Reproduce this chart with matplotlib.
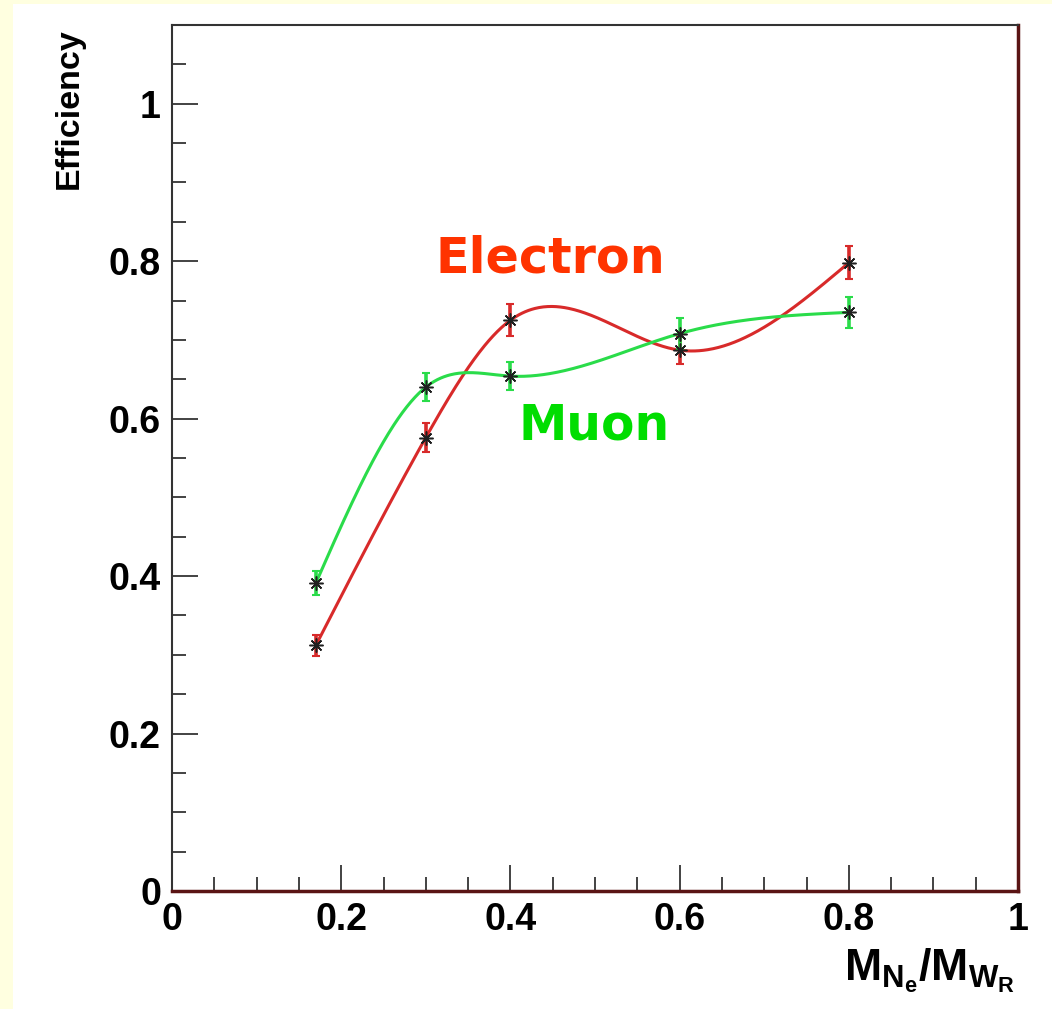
import numpy as np
import matplotlib
matplotlib.use('Agg')
import matplotlib.pyplot as plt
from matplotlib.patches import Rectangle
from matplotlib.ticker import MultipleLocator

plt.rcParams['font.family'] = ['Liberation Sans', 'DejaVu Sans']
plt.rcParams['font.weight'] = 'bold'
plt.rcParams['mathtext.fontset'] = 'custom'
plt.rcParams['mathtext.rm'] = 'Liberation Sans:bold'
plt.rcParams['mathtext.bf'] = 'Liberation Sans:bold'
plt.rcParams['mathtext.it'] = 'Liberation Sans:bold'

# mass ratio M_N / M_W
mass_ratio = [0.17, 0.3, 0.4, 0.6, 0.8]
eff_electron = [0.312, 0.576, 0.725, 0.687, 0.798]
err_electron = [0.013, 0.018, 0.020, 0.017, 0.021]
eff_muon = [0.391, 0.640, 0.654, 0.708, 0.735]
err_muon = [0.015, 0.018, 0.018, 0.020, 0.020]

XMAX = 1.0
YMAX = 1.1


def natural_spline(x, y, xx):
    # natural cubic spline through (x, y), evaluated at xx
    x = np.asarray(x, float)
    y = np.asarray(y, float)
    n = len(x)
    h = np.diff(x)
    A = np.zeros((n, n))
    b = np.zeros(n)
    A[0, 0] = A[-1, -1] = 1
    for i in range(1, n - 1):
        A[i, i - 1] = h[i - 1]
        A[i, i] = 2 * (h[i - 1] + h[i])
        A[i, i + 1] = h[i]
        b[i] = 6 * ((y[i + 1] - y[i]) / h[i] - (y[i] - y[i - 1]) / h[i - 1])
    M = np.linalg.solve(A, b)
    i = np.clip(np.searchsorted(x, xx, side='right') - 1, 0, n - 2)
    a = x[i + 1] - xx
    c = xx - x[i]
    return (M[i] * a**3 / (6 * h[i]) + M[i + 1] * c**3 / (6 * h[i])
            + (y[i] / h[i] - M[i] * h[i] / 6) * a
            + (y[i + 1] / h[i] - M[i + 1] * h[i] / 6) * c)


fig = plt.figure(figsize=(10.52, 10.09), dpi=100, facecolor='#FFFFE0')
fig.patches.append(Rectangle((13 / 1052, 0), 1, 1005 / 1009, transform=fig.transFigure,
                             facecolor='white', edgecolor='none', zorder=-10))

ax = fig.add_axes([172 / 1052, 118 / 1009, 846 / 1052, 866 / 1009])
ax.set_zorder(1)
ax.set_xlim(0, XMAX)
ax.set_ylim(0, YMAX)

red = '#D82A2A'
green = '#2ADC4A'

xs = np.linspace(mass_ratio[0], mass_ratio[-1], 500)
for yv, err, col in [(eff_electron, err_electron, red), (eff_muon, err_muon, green)]:
    ax.plot(xs, natural_spline(mass_ratio, yv, xs), color=col, lw=2.2, zorder=2)
    ax.errorbar(mass_ratio, yv, yerr=err, fmt='none', ecolor=col, elinewidth=2.6,
                capsize=3, capthick=1.5, zorder=3)
    ax.plot(mass_ratio, yv, ls='none', marker=(8, 2, 0), ms=10, mew=1.1,
            color='#202020', zorder=4)

ax.text(0.311, 0.803, 'Electron', color='#FF3300', fontsize=35.5, fontweight='bold',
        family='DejaVu Sans', va='center', ha='left')
ax.text(0.41, 0.591, 'Muon', color='#00DD00', fontsize=35, fontweight='bold',
        family='DejaVu Sans', va='center', ha='left')

ax.xaxis.set_minor_locator(MultipleLocator(0.05))
ax.yaxis.set_minor_locator(MultipleLocator(0.05))
ax.set_xticks([0, 0.2, 0.4, 0.6, 0.8, 1.0])
ax.set_xticklabels(['0', '0.2', '0.4', '0.6', '0.8', '1'])
ax.set_yticks([0, 0.2, 0.4, 0.6, 0.8, 1.0])
ax.set_yticklabels(['0', '0.2', '0.4', '0.6', '0.8', '1'])
ax.tick_params(which='both', direction='in', top=False, right=False, width=1.2,
               color='#222222', labelsize=27)
ax.tick_params(which='major', length=19)
ax.tick_params(which='minor', length=10)
ax.tick_params(axis='x', pad=8)
ax.tick_params(axis='y', pad=8)
for lab in ax.get_xticklabels() + ax.get_yticklabels():
    lab.set_fontweight('bold')

for side in ['left', 'top']:
    ax.spines[side].set_color('#333333')
    ax.spines[side].set_linewidth(1.5)
for side in ['right', 'bottom']:
    ax.spines[side].set_color('#5A1414')
    ax.spines[side].set_linewidth(2.5)

ax.set_ylabel('Efficiency', fontsize=24.5, fontweight='bold')
ax.yaxis.set_label_coords(-0.103, 0.904)
ax.set_xlabel(r'$\mathbf{M_{N_e}/M_{W_R}}$', fontsize=32)
ax.xaxis.set_label_coords(0.997, -0.064)
ax.xaxis.label.set_horizontalalignment('right')

fig.savefig('out.png', dpi=100, facecolor=fig.get_facecolor())
